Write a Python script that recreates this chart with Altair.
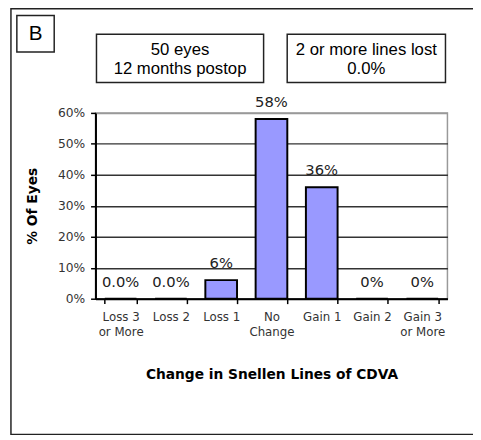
import altair as alt
import pandas as pd

categories = ["Loss 3\nor More", "Loss 2", "Loss 1", "No\nChange", "Gain 1", "Gain 2", "Gain 3\nor More"]
values = [0.0, 0.0, 0.06, 0.58, 0.36, 0.0, 0.0]
bar_labels = ["0.0%", "0.0%", "6%", "58%", "36%", "0%", "0%"]
panel_letter = "B"
box1_lines = ["50 eyes", "12 months postop"]
box2_lines = ["2 or more lines lost", "0.0%"]
x_title = "Change in Snellen Lines of CDVA"
y_title = "% Of Eyes"
y_ticks = [0, 0.1, 0.2, 0.3, 0.4, 0.5, 0.6]

df = pd.DataFrame({"cat": categories, "val": values, "lab": bar_labels})
one = pd.DataFrame({"k": [1]})

W, H = 358, 189

x = alt.X("cat:N", sort=categories, title=x_title,
          scale=alt.Scale(paddingInner=0.37, paddingOuter=0.185),
          axis=alt.Axis(labelAngle=0, labelExpr="split(datum.label, '\\n')",
                        labelFont="DejaVu Sans", labelFontSize=12, labelColor="#333333",
                        labelPadding=8, labelLineHeight=15,
                        tickBand="extent", tickSize=5, tickColor="black", tickWidth=1.5,
                        domainColor="black", domainWidth=2,
                        titleFont="DejaVu Sans", titleFontSize=14, titleFontWeight="bold",
                        titleColor="black", titlePadding=31, grid=False))
y = alt.Y("val:Q", title=y_title,
          scale=alt.Scale(domain=[0, 0.6], nice=False),
          axis=alt.Axis(format=".0%", values=y_ticks, labelOverlap=False,
                        labelFont="DejaVu Sans", labelFontSize=12.5, labelColor="#333333",
                        labelPadding=6, tickSize=5, tickColor="black", tickWidth=1.5,
                        domainColor="black", domainWidth=2,
                        grid=True,
                        gridColor={"condition": {"test": "datum.value >= 0.59", "value": "#999999"},
                                   "value": "#333333"},
                        gridWidth=1.5,
                        titleFont="DejaVu Sans", titleFontSize=14, titleFontWeight="bold",
                        titleColor="black", titlePadding=18))

bars = alt.Chart(df).mark_bar(fill="#9999FF", stroke="black", strokeWidth=2).encode(x=x, y=y)
texts = alt.Chart(df).mark_text(dy=-17, font="DejaVu Sans", fontSize=15, color="#222222",
                                baseline="middle").encode(x=x, y=y, text="lab:N")


def box(x1, y1, x2, y2, sw=1.5):
    return alt.Chart(one).mark_rect(fillOpacity=0, stroke="#222222", strokeWidth=sw).encode(
        x=alt.value(x1), x2=alt.value(x2), y=alt.value(y1), y2=alt.value(y2))


def label(txt, cx, cy, size, font="Liberation Sans", weight="normal"):
    return alt.Chart(one).mark_text(text=txt, font=font, fontSize=size, fontWeight=weight,
                                    color="black", align="center", baseline="middle").encode(
        x=alt.value(cx), y=alt.value(cy))


deco = [
    box(-86, -106, 386, 327, 1.5),
    box(-80, -99, -42, -62, 1.5),
    label(panel_letter, -61, -80, 21),
    box(1, -80, 171, -31, 1.5),
    label(box1_lines[0], 86, -64, 17),
    label(box1_lines[1], 86, -45, 17),
    box(195, -80, 356, -31, 1.5),
    label(box2_lines[0], 275.5, -64, 17),
    label(box2_lines[1], 275.5, -45, 17),
]

chart = alt.layer(bars, texts, *deco).properties(
    width=W, height=H,
    padding={"left": 89, "top": 103, "right": 26, "bottom": 140},
    autosize=alt.AutoSizeParams(type="none"),
    background="white",
).configure_view(stroke="#999999", strokeWidth=1.5)

chart.save("out.html", embed_options={"renderer": "svg", "actions": False})
